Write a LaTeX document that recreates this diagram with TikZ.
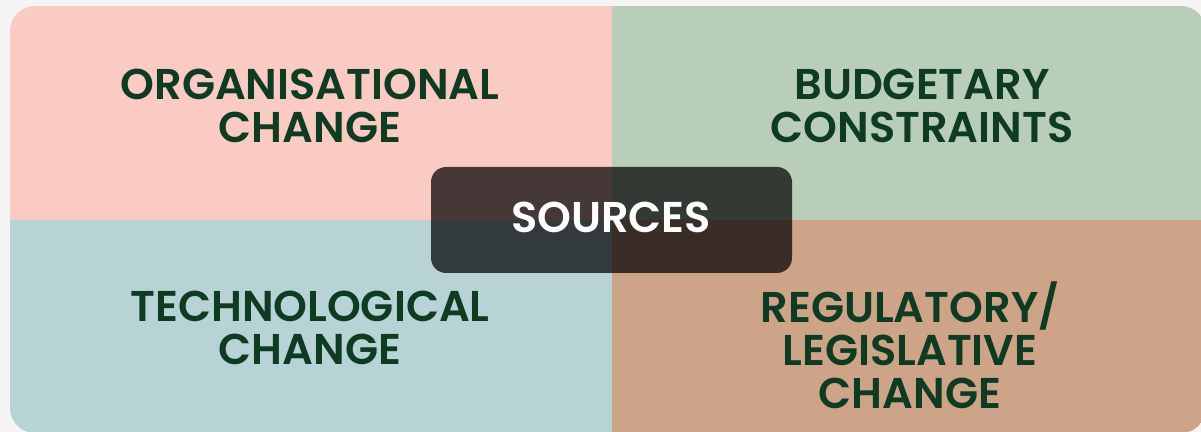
\documentclass[tikz,border=0pt]{standalone}
\usepackage{fontspec}
\setmainfont{Poppins}[BoldFont={Poppins SemiBold}]
\definecolor{bgpaper}{HTML}{F7F5F3}
\definecolor{pinkq}{HTML}{F9CBC3}
\definecolor{greenq}{HTML}{B9CEB8}
\definecolor{blueq}{HTML}{B7D3D6}
\definecolor{brownq}{HTML}{CDA488}
\definecolor{labelgreen}{HTML}{0E3B22}
\begin{document}
\begin{tikzpicture}[x=0.02cm,y=-0.02cm]
\tikzstyle{every node}+=[inner sep=0pt, align=center]
\tikzstyle{quadlabel}=[text=labelgreen, font=\fontsize{24.5}{24.5}\selectfont\bfseries]
\useasboundingbox [fill=bgpaper] (0,0) rectangle (1201,432);
\begin{scope}
\clip [rounded corners=0.5cm] (10,6) rectangle (1206,433);
\fill [pinkq] (10,6) rectangle (612,220);
\fill [greenq] (612,6) rectangle (1206,220);
\fill [blueq] (10,220) rectangle (612,433);
\fill [brownq] (612,220) rectangle (1206,433);
\end{scope}
\node [quadlabel] (orgchange) at (310,106) {ORGANISATIONAL\\CHANGE};
\node [quadlabel] (budget) at (922,106) {BUDGETARY\\CONSTRAINTS};
\node [quadlabel] (techchange) at (310,328) {TECHNOLOGICAL\\CHANGE};
\node [quadlabel] (regchange) at (910,345) {REGULATORY/\\LEGISLATIVE\\CHANGE};
\fill [black, fill opacity=0.72, rounded corners=0.3cm] (431,167) rectangle (792,273);
\node [text=white, font=\fontsize{24.5}{24}\selectfont\bfseries] (sources) at (611,217) {SOURCES};
\end{tikzpicture}
\end{document}
